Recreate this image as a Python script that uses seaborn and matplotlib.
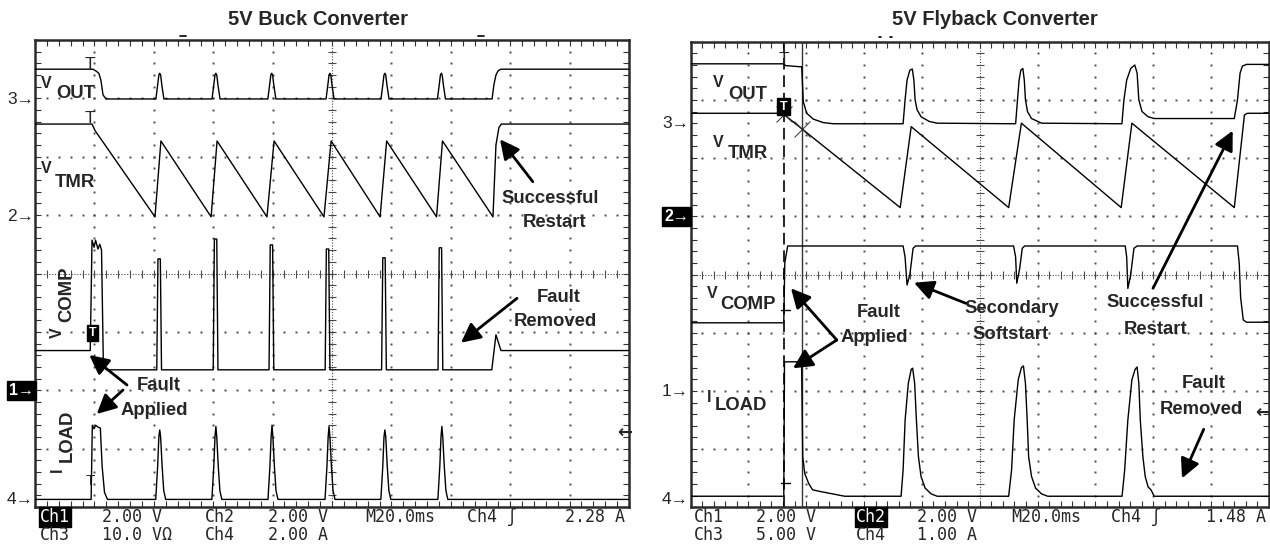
import numpy as np
import pandas as pd
import matplotlib
matplotlib.use("Agg")
import matplotlib.pyplot as plt
import seaborn as sns
from matplotlib.patches import FancyArrowPatch
from matplotlib.lines import Line2D

# ---------------- data: time in ms (20 ms/div), amplitude in screen divisions ----------------
BUCK_VOUT_T = [0, 19.5, 20.5, 21.5, 22.2, 22.9, 23.9,
               40.7, 41.3, 41.7, 42.0, 42.3, 42.7, 43.4,
               59.6, 60.2, 60.6, 60.9, 61.2, 61.6, 62.3,
               78.4, 79.0, 79.4, 79.7, 80.0, 80.4, 81.1,
               98.0, 98.6, 99.0, 99.3, 99.6, 100.0, 100.7,
               116.5, 117.1, 117.5, 117.8, 118.1, 118.5, 119.2,
               135.5, 136.1, 136.5, 136.8, 137.1, 137.5, 138.2,
               153.9, 154.5, 155.2, 155.9, 156.9, 200]
BUCK_VOUT_V = [3.50, 3.50, 3.47, 3.43, 3.31, 3.06, 2.99,
               2.99, 3.23, 3.40, 3.43, 3.40, 3.23, 2.99,
               2.99, 3.23, 3.40, 3.43, 3.40, 3.23, 2.99,
               2.99, 3.23, 3.40, 3.43, 3.40, 3.23, 2.99,
               2.99, 3.23, 3.40, 3.43, 3.40, 3.23, 2.99,
               2.99, 3.23, 3.40, 3.43, 3.40, 3.23, 2.99,
               2.99, 3.23, 3.40, 3.43, 3.40, 3.23, 2.99,
               2.99, 3.23, 3.40, 3.47, 3.50, 3.50]

BUCK_VTMR_T = [0, 19.2, 20.2, 40.4, 42.4, 59.3, 61.3, 78.1, 80.5, 97.3, 99.7,
               116.2, 118.4, 135.2, 137.2, 154.2, 155.2, 156.2, 157.0, 200]
BUCK_VTMR_V = [2.56, 2.56, 2.45, 0.97, 2.27, 0.97, 2.27, 0.97, 2.27, 0.97, 2.27,
               0.97, 2.27, 0.97, 2.27, 0.97, 2.20, 2.50, 2.56, 2.56]

BUCK_VCOMP_T = [0, 18.6, 19.2, 19.9, 20.4, 21.2, 21.8, 22.4, 23.0, 24.0,
                41.0, 41.4, 42.2, 42.6,
                60.0, 60.4, 61.2, 61.6,
                78.8, 79.2, 80.0, 80.4,
                97.7, 98.1, 98.9, 99.3,
                116.7, 117.1, 117.9, 118.3,
                135.7, 136.1, 136.9, 137.3,
                153.8, 155.2, 156.9, 200]
BUCK_VCOMP_V = [-1.32, -1.32, 0.57, 0.45, 0.57, 0.42, 0.50, 0.40, -1.50, -1.65,
                -1.65, 0.25, 0.25, -1.65,
                -1.65, 0.59, 0.59, -1.65,
                -1.65, 0.49, 0.49, -1.65,
                -1.65, 0.42, 0.42, -1.65,
                -1.65, 0.27, 0.27, -1.65,
                -1.65, 0.44, 0.44, -1.65,
                -1.65, -1.05, -1.32, -1.32]

BUCK_ILOAD_T = [0, 18.9, 19.3, 19.9, 20.4, 21.2, 22.0, 22.6, 23.4, 24.4,
                40.65, 41.3, 41.7, 42.0, 42.3, 42.8, 43.35, 44.0,
                59.55, 60.2, 60.6, 60.9, 61.2, 61.7, 62.25, 62.9,
                78.45, 79.1, 79.5, 79.8, 80.1, 80.6, 81.15, 81.8,
                97.65, 98.3, 98.7, 99.0, 99.3, 99.8, 100.35, 101.0,
                116.45, 117.1, 117.5, 117.8, 118.1, 118.6, 119.15, 119.8,
                135.65, 136.3, 136.7, 137.0, 137.3, 137.8, 138.35, 139.0,
                200]
BUCK_ILOAD_V = [-3.87, -3.87, -2.60, -2.66, -2.60, -2.63, -2.65, -3.30, -3.75, -3.87,
                -3.87, -3.30, -2.80, -2.68, -2.80, -3.30, -3.72, -3.87,
                -3.87, -3.30, -2.80, -2.62, -2.80, -3.30, -3.72, -3.87,
                -3.87, -3.30, -2.80, -2.60, -2.80, -3.30, -3.72, -3.87,
                -3.87, -3.30, -2.80, -2.62, -2.80, -3.30, -3.72, -3.87,
                -3.87, -3.30, -2.80, -2.68, -2.80, -3.30, -3.72, -3.87,
                -3.87, -3.30, -2.80, -2.62, -2.80, -3.30, -3.72, -3.87,
                -3.87]

FLY_VOUT_T = [0, 32.25, 32.8, 37.8, 38.44, 39.0, 40.17, 42.45, 45.9, 49.4,
              73.5, 74.18, 74.87, 75.84, 76.68, 77.23, 77.65, 78.34, 79.73, 82.51, 85.28,
              112.4, 113.05, 113.6, 114.2, 114.9, 115.4, 115.8, 116.5, 117.9, 121.4,
              149.15, 149.84, 150.8, 152.2, 153.6, 154.4, 155.0, 156.1, 158.2, 160.3,
              188.0, 189.1, 190.0, 190.8, 192.2, 200]
FLY_VOUT_V = [3.62, 3.62, 3.59, 3.57, 3.57, 2.97, 2.77, 2.67, 2.61, 2.59,
              2.59, 3.00, 3.34, 3.51, 3.53, 3.34, 3.00, 2.83, 2.71, 2.63, 2.60,
              2.59, 3.00, 3.34, 3.51, 3.54, 3.34, 3.00, 2.80, 2.68, 2.60,
              2.59, 3.00, 3.34, 3.54, 3.60, 3.46, 3.00, 2.80, 2.71, 2.68,
              2.68, 3.00, 3.46, 3.58, 3.61, 3.61]

FLY_VTMR_T = [0, 31.8, 72.5, 76.3, 110.0, 114.4, 148.9, 152.6, 188.0, 191.5, 192.5, 200]
FLY_VTMR_V = [2.77, 2.77, 1.15, 2.54, 1.15, 2.60, 1.15, 2.60, 1.15, 2.74, 2.77, 2.77]

FLY_VCOMP_T = [0, 32.25, 32.6, 33.6, 73.5, 74.18, 74.87, 75.84, 76.95, 77.8,
               111.7, 112.4, 112.8, 113.8, 114.7, 115.5,
               150.3, 150.8, 151.2, 152.2, 153.3, 154.4,
               189.1, 189.7, 190.2, 191.1, 192.2, 200]
FLY_VCOMP_V = [-0.83, -0.83, 0.20, 0.49, 0.49, 0.30, -0.18, 0.00, 0.45, 0.49,
               0.49, 0.30, -0.15, 0.10, 0.45, 0.49,
               0.49, 0.30, -0.24, 0.00, 0.45, 0.49,
               0.49, 0.20, -0.40, -0.78, -0.82, -0.82]

FLY_ILOAD_T = [0, 32.25, 32.5, 38.4, 38.8, 39.5, 40.85, 42.2, 45.0, 49.2, 53.3,
               72.8, 73.5, 74.2, 75.3, 76.3, 76.8, 77.5, 78.1, 78.8, 79.7, 81.1, 83.2, 85.3,
               110.0, 111.0, 111.9, 113.3, 114.4, 115.1, 115.8, 116.4, 116.9, 117.9, 119.3, 121.4, 123.5,
               149.2, 150.1, 151.2, 152.6, 153.7, 154.4, 155.0, 155.5, 156.4, 157.2, 158.2, 159.2, 160.3,
               200]
FLY_ILOAD_V = [-3.81, -3.81, -1.50, -1.50, -3.13, -3.42, -3.59, -3.70, -3.73, -3.77, -3.81,
               -3.81, -3.36, -2.50, -1.87, -1.63, -1.61, -1.87, -2.50, -3.13, -3.47, -3.67, -3.77, -3.81,
               -3.81, -3.36, -2.50, -1.81, -1.60, -1.57, -1.87, -2.50, -3.13, -3.47, -3.67, -3.77, -3.81,
               -3.81, -3.36, -2.50, -1.81, -1.63, -1.59, -1.87, -2.50, -3.13, -3.47, -3.65, -3.70, -3.81,
               -3.81]

FLY_CURSORS = [32.25, 38.5]   # ms: dashed cursor, solid cursor

TITLES = ["5V Buck Converter", "5V Flyback Converter"]
BUCK_READOUT = [["Ch1", "2.00 V", "Ch2", "2.00 V", "M20.0ms", "Ch4 \u0283", "2.28 A"],
                ["Ch3", "10.0 V\u03a9", "Ch4", "2.00 A"]]
FLY_READOUT = [["Ch1", "2.00 V", "Ch2", "2.00 V", "M20.0ms", "Ch4 \u0283", "1.48 A"],
               ["Ch3", "5.00 V", "Ch4", "1.00 A"]]

# ---------------- style ----------------
sns.set_style("white")
plt.rcParams["font.family"] = ["Liberation Sans", "DejaVu Sans"]

W, H = 1270, 546
fig = plt.figure(figsize=(W / 100, H / 100), dpi=100)
axL = fig.add_axes([35 / W, (H - 507) / H, 594 / W, 467 / H])
axR = fig.add_axes([690.5 / W, (H - 507.3) / H, 578.5 / W, 465.6 / H])


def frame(tr_dict):
    rows = []
    for name, (t, v) in tr_dict.items():
        rows.append(pd.DataFrame({"trace": name, "t": t, "v": v}))
    return pd.concat(rows, ignore_index=True)


def graticule(ax):
    ax.set_xlim(0, 200)
    ax.set_ylim(-4, 4)
    gc = "#4a4a4a"
    ydots = np.arange(-4, 4.001, 0.2)
    xdots = np.arange(0, 200.01, 4)
    for x in range(20, 200, 20):
        if x == 100:
            continue
        ax.plot(np.full_like(ydots, x), ydots, ls="none", marker="s", ms=1.4, mew=0, color=gc, zorder=1)
    for y in range(-3, 4):
        if y == 0:
            continue
        ax.plot(xdots, np.full_like(xdots, y, dtype=float), ls="none", marker="s", ms=1.4, mew=0, color=gc, zorder=1)
    ax.axvline(100, ls=(0, (1, 1.5)), lw=0.8, color=gc, zorder=1)
    ax.axhline(0, ls=(0, (1, 1.5)), lw=0.8, color=gc, zorder=1)
    ax.plot(np.full_like(ydots, 100), ydots, ls="none", marker="_", ms=6, mew=0.8, color=gc, zorder=1)
    ax.plot(xdots, np.zeros_like(xdots), ls="none", marker="|", ms=6, mew=0.8, color=gc, zorder=1)
    ax.set_xticks(np.arange(0, 201, 20))
    ax.set_xticks(xdots, minor=True)
    ax.set_yticks(np.arange(-4, 4.01, 1))
    ax.set_yticks(ydots, minor=True)
    ax.tick_params(which="both", direction="in", top=True, right=True, bottom=True, left=True,
                   labelbottom=False, labelleft=False, length=4, width=0.8, color="#333333")
    for s in ax.spines.values():
        s.set_linewidth(1.8)
        s.set_color("#2a2a2a")
    ax.set_xlabel("")
    ax.set_ylabel("")


buck = frame({"vout": (BUCK_VOUT_T, BUCK_VOUT_V), "vtmr": (BUCK_VTMR_T, BUCK_VTMR_V),
              "vcomp": (BUCK_VCOMP_T, BUCK_VCOMP_V), "iload": (BUCK_ILOAD_T, BUCK_ILOAD_V)})
fly = frame({"vout": (FLY_VOUT_T, FLY_VOUT_V), "vtmr": (FLY_VTMR_T, FLY_VTMR_V),
             "vcomp": (FLY_VCOMP_T, FLY_VCOMP_V), "iload": (FLY_ILOAD_T, FLY_ILOAD_V)})

for ax, df in ((axL, buck), (axR, fly)):
    sns.lineplot(data=df, x="t", y="v", units="trace", estimator=None, sort=False,
                 color="black", linewidth=1.0, ax=ax, legend=False, zorder=3)
    graticule(ax)

# cursors on the flyback screen
axR.axvline(FLY_CURSORS[0], ls=(0, (7, 3.5)), lw=1.2, color="black", zorder=2)
axR.axvline(FLY_CURSORS[1], lw=1.0, color="#333333", zorder=2)
cx = np.array(FLY_CURSORS)
axR.plot(cx, np.interp(cx, FLY_VTMR_T, FLY_VTMR_V), ls="none", marker="x", ms=11, mew=0.7, color="#333333", zorder=4)


# ---------------- text helpers (figure pixel coordinates) ----------------
def ftext(x, y, s, size=13.3, weight="bold", ha="left", va="baseline", rot=0, **kw):
    fig.text(x / W, 1 - y / H, s, fontsize=size, fontweight=weight, ha=ha, va=va,
             rotation=rot, rotation_mode="anchor", **kw)


def farrow(x0, y0, x1, y1):
    fig.add_artist(FancyArrowPatch((x0 / W, 1 - y0 / H), (x1 / W, 1 - y1 / H), transform=fig.transFigure,
                                   arrowstyle="-|>,head_length=0.9,head_width=0.45", mutation_scale=13,
                                   lw=2.0, color="black", shrinkA=0, shrinkB=0, zorder=5))


def fline(xs, ys, lw=1.0, color="black"):
    fig.add_artist(Line2D([x / W for x in xs], [1 - y / H for y in ys], lw=lw, color=color,
                          transform=fig.transFigure))


# titles
ftext(318, 25, TITLES[0], size=14.5, ha="center")
ftext(995, 25, TITLES[1], size=14.5, ha="center")

# ---- buck labels
ftext(40.7, 88.3, "V", size=11.5); ftext(56, 98.3, "OUT")
ftext(41, 173, "V", size=11.5); ftext(55, 186.7, "TMR")
ftext(61.5, 338.3, "V", size=11.5, rot=90); ftext(71.7, 322, "COMP", rot=90)
ftext(61.5, 472, "I", size=11.5, rot=90); ftext(71.7, 461.7, "LOAD", rot=90)
ftext(550.6, 203.3, "Successful", ha="center"); ftext(555, 226.7, "Restart", ha="center")
ftext(558.6, 301.7, "Fault", ha="center"); ftext(555, 326, "Removed", ha="center")
ftext(158.8, 390, "Fault", ha="center"); ftext(154, 415, "Applied", ha="center")
farrow(532.8, 181.7, 500, 139.3)
farrow(517, 298.3, 461, 342.7)
farrow(127, 385, 89.3, 355)
farrow(123, 390, 96.7, 414)

# ---- flyback labels
ftext(712.7, 87.3, "V", size=11.5); ftext(728, 99.3, "OUT")
ftext(712.6, 146.7, "V", size=11.5); ftext(728, 158.3, "TMR")
ftext(706.5, 298.3, "V", size=11.5); ftext(720.6, 309.3, "COMP")
ftext(706.5, 401.7, "I", size=11.5); ftext(714.6, 410, "LOAD")
ftext(878.7, 316.7, "Fault", ha="center"); ftext(874.4, 341.7, "Applied", ha="center")
farrow(836.8, 340, 791, 288.3)
farrow(836.8, 340, 793, 368.3)
ftext(1011.5, 313.3, "Secondary", ha="center"); ftext(1011, 339.3, "Softstart", ha="center")
farrow(965.8, 303.3, 914, 282.7)
ftext(1154.7, 306.7, "Successful", ha="center"); ftext(1156, 334, "Restart", ha="center")
farrow(1153, 288.3, 1232.7, 130.7)
ftext(1204, 388.3, "Fault", ha="center"); ftext(1201, 414, "Removed", ha="center")
farrow(1203.7, 429.3, 1182, 478.3)

# ---- channel markers
arrowfont = ["DejaVu Sans"]
box = dict(boxstyle="square,pad=0.12", fc="black", ec="black")
for (xr, y, s, boxed) in [(34, 99.3, "3\u2192", False), (34, 216.7, "2\u2192", False),
                          (34, 390.7, "1\u2192", True), (34, 499.3, "4\u2192", False),
                          (689, 124, "3\u2192", False), (689, 216.7, "2\u2192", True),
                          (689, 391.7, "1\u2192", False), (689, 499.3, "4\u2192", False)]:
    if boxed:
        ftext(xr, y, s, size=11.5, weight="bold", ha="right", va="center", color="white", bbox=box)
    else:
        ftext(xr, y, s, size=12.5, weight="normal", ha="right", va="center")
ftext(632, 432.7, "\u2190", size=13, weight="bold", ha="right", va="center", family=arrowfont)
ftext(1270, 413.3, "\u2190", size=13, weight="bold", ha="right", va="center", family=arrowfont)

# trigger markers
ftext(90, 69, "T", size=12.5, weight="normal", ha="center")
ftext(90, 123, "T", size=12.5, weight="normal", ha="center")
ftext(90.5, 485, "T", size=11, weight="normal", ha="center")
ftext(92.8, 333.3, "T", size=9, weight="bold", ha="center", va="center", color="white",
      bbox=dict(boxstyle="square,pad=0.15", fc="black", ec="black"))
ftext(784, 64, "T", size=12.5, weight="normal", ha="center")
ftext(783.3, 106.7, "T", size=9, weight="bold", ha="center", va="center", color="white",
      bbox=dict(boxstyle="square,pad=0.2", fc="black", ec="black"))
fline([781, 790], [310, 310]); fline([781, 790], [483.3, 483.3])
fline([180, 186], [36, 36], lw=1.2); fline([478, 484], [36, 36], lw=1.2)
fline([879, 881], [37, 37], lw=1.2); fline([890, 892], [37, 37], lw=1.2)

# ---- readouts
mono = ["DejaVu Sans Mono"]
xsL = [[40, 102, 205, 268, 365, 467, 565], [40, 102, 205, 268]]
xsR = [[694, 756, 856, 917, 1011, 1111, 1206], [694, 756, 856, 917]]
for rows, xs, boxed_idx in ((BUCK_READOUT, xsL, (0, 0)), (FLY_READOUT, xsR, (0, 2))):
    for r, (row, xrow) in enumerate(zip(rows, xs)):
        yy = 517 if r == 0 else 535
        for c, (s, x) in enumerate(zip(row, xrow)):
            kw = {}
            if (r, c) == boxed_idx:
                kw = dict(color="white", bbox=dict(boxstyle="square,pad=0.05", fc="black", ec="black"))
            ftext(x, yy, s, size=12, weight="normal", va="center", family=mono, **kw)

fig.savefig("out.png", dpi=100)
